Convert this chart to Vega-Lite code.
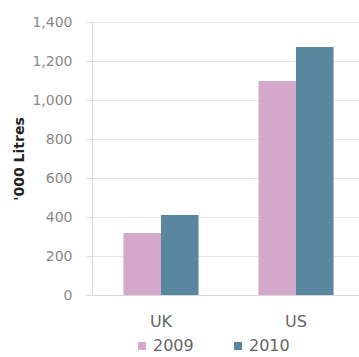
{
  "$schema": "https://vega.github.io/schema/vega-lite/v6.json",
  "width": 273,
  "height": 273,
  "autosize": "none",
  "padding": {"left": 92, "top": 22, "right": 0, "bottom": 62},
  "background": "white",
  "data": {"values": [
    {"country": "UK", "year": "2009", "value": 318},
    {"country": "UK", "year": "2010", "value": 410},
    {"country": "US", "year": "2009", "value": 1097},
    {"country": "US", "year": "2010", "value": 1272}
  ]},
  "config": {
    "view": {"stroke": null},
    "font": "DejaVu Sans"
  },
  "mark": {"type": "bar"},
  "encoding": {
    "x": {
      "field": "country", "type": "nominal",
      "scale": {"paddingInner": 0.444, "paddingOuter": 0.233},
      "axis": {"title": null, "labelAngle": 0, "ticks": false, "labelPadding": 18, "labelFontSize": 16, "labelColor": "#666666", "domainColor": "#d9d9d9", "grid": false}
    },
    "xOffset": {"field": "year", "type": "nominal", "scale": {"paddingInner": 0, "paddingOuter": 0}},
    "y": {
      "field": "value", "type": "quantitative",
      "scale": {"domain": [0, 1400]},
      "axis": {"title": "'000 Litres", "titleFontWeight": "bold", "titleFontSize": 14, "titleColor": "#222222", "titlePadding": 5,
        "values": [0, 200, 400, 600, 800, 1000, 1200, 1400], "format": ",.0f", "labelFontSize": 14, "labelColor": "#888888",
        "tickSize": 6, "tickColor": "#d9d9d9", "labelPadding": 14, "domainColor": "#d9d9d9", "gridColor": "#e6e6e6"}
    },
    "color": {
      "field": "year", "type": "nominal",
      "scale": {"domain": ["2009", "2010"], "range": ["#d3a8cb", "#5a87a0"]},
      "legend": {"title": null, "orient": "none", "direction": "horizontal", "legendX": 42, "legendY": 316,
        "symbolType": "square", "symbolSize": 64, "symbolStrokeWidth": 0, "labelFontSize": 16, "labelColor": "#666666", "labelOffset": 3, "columnPadding": 36}
    }
  }
}
